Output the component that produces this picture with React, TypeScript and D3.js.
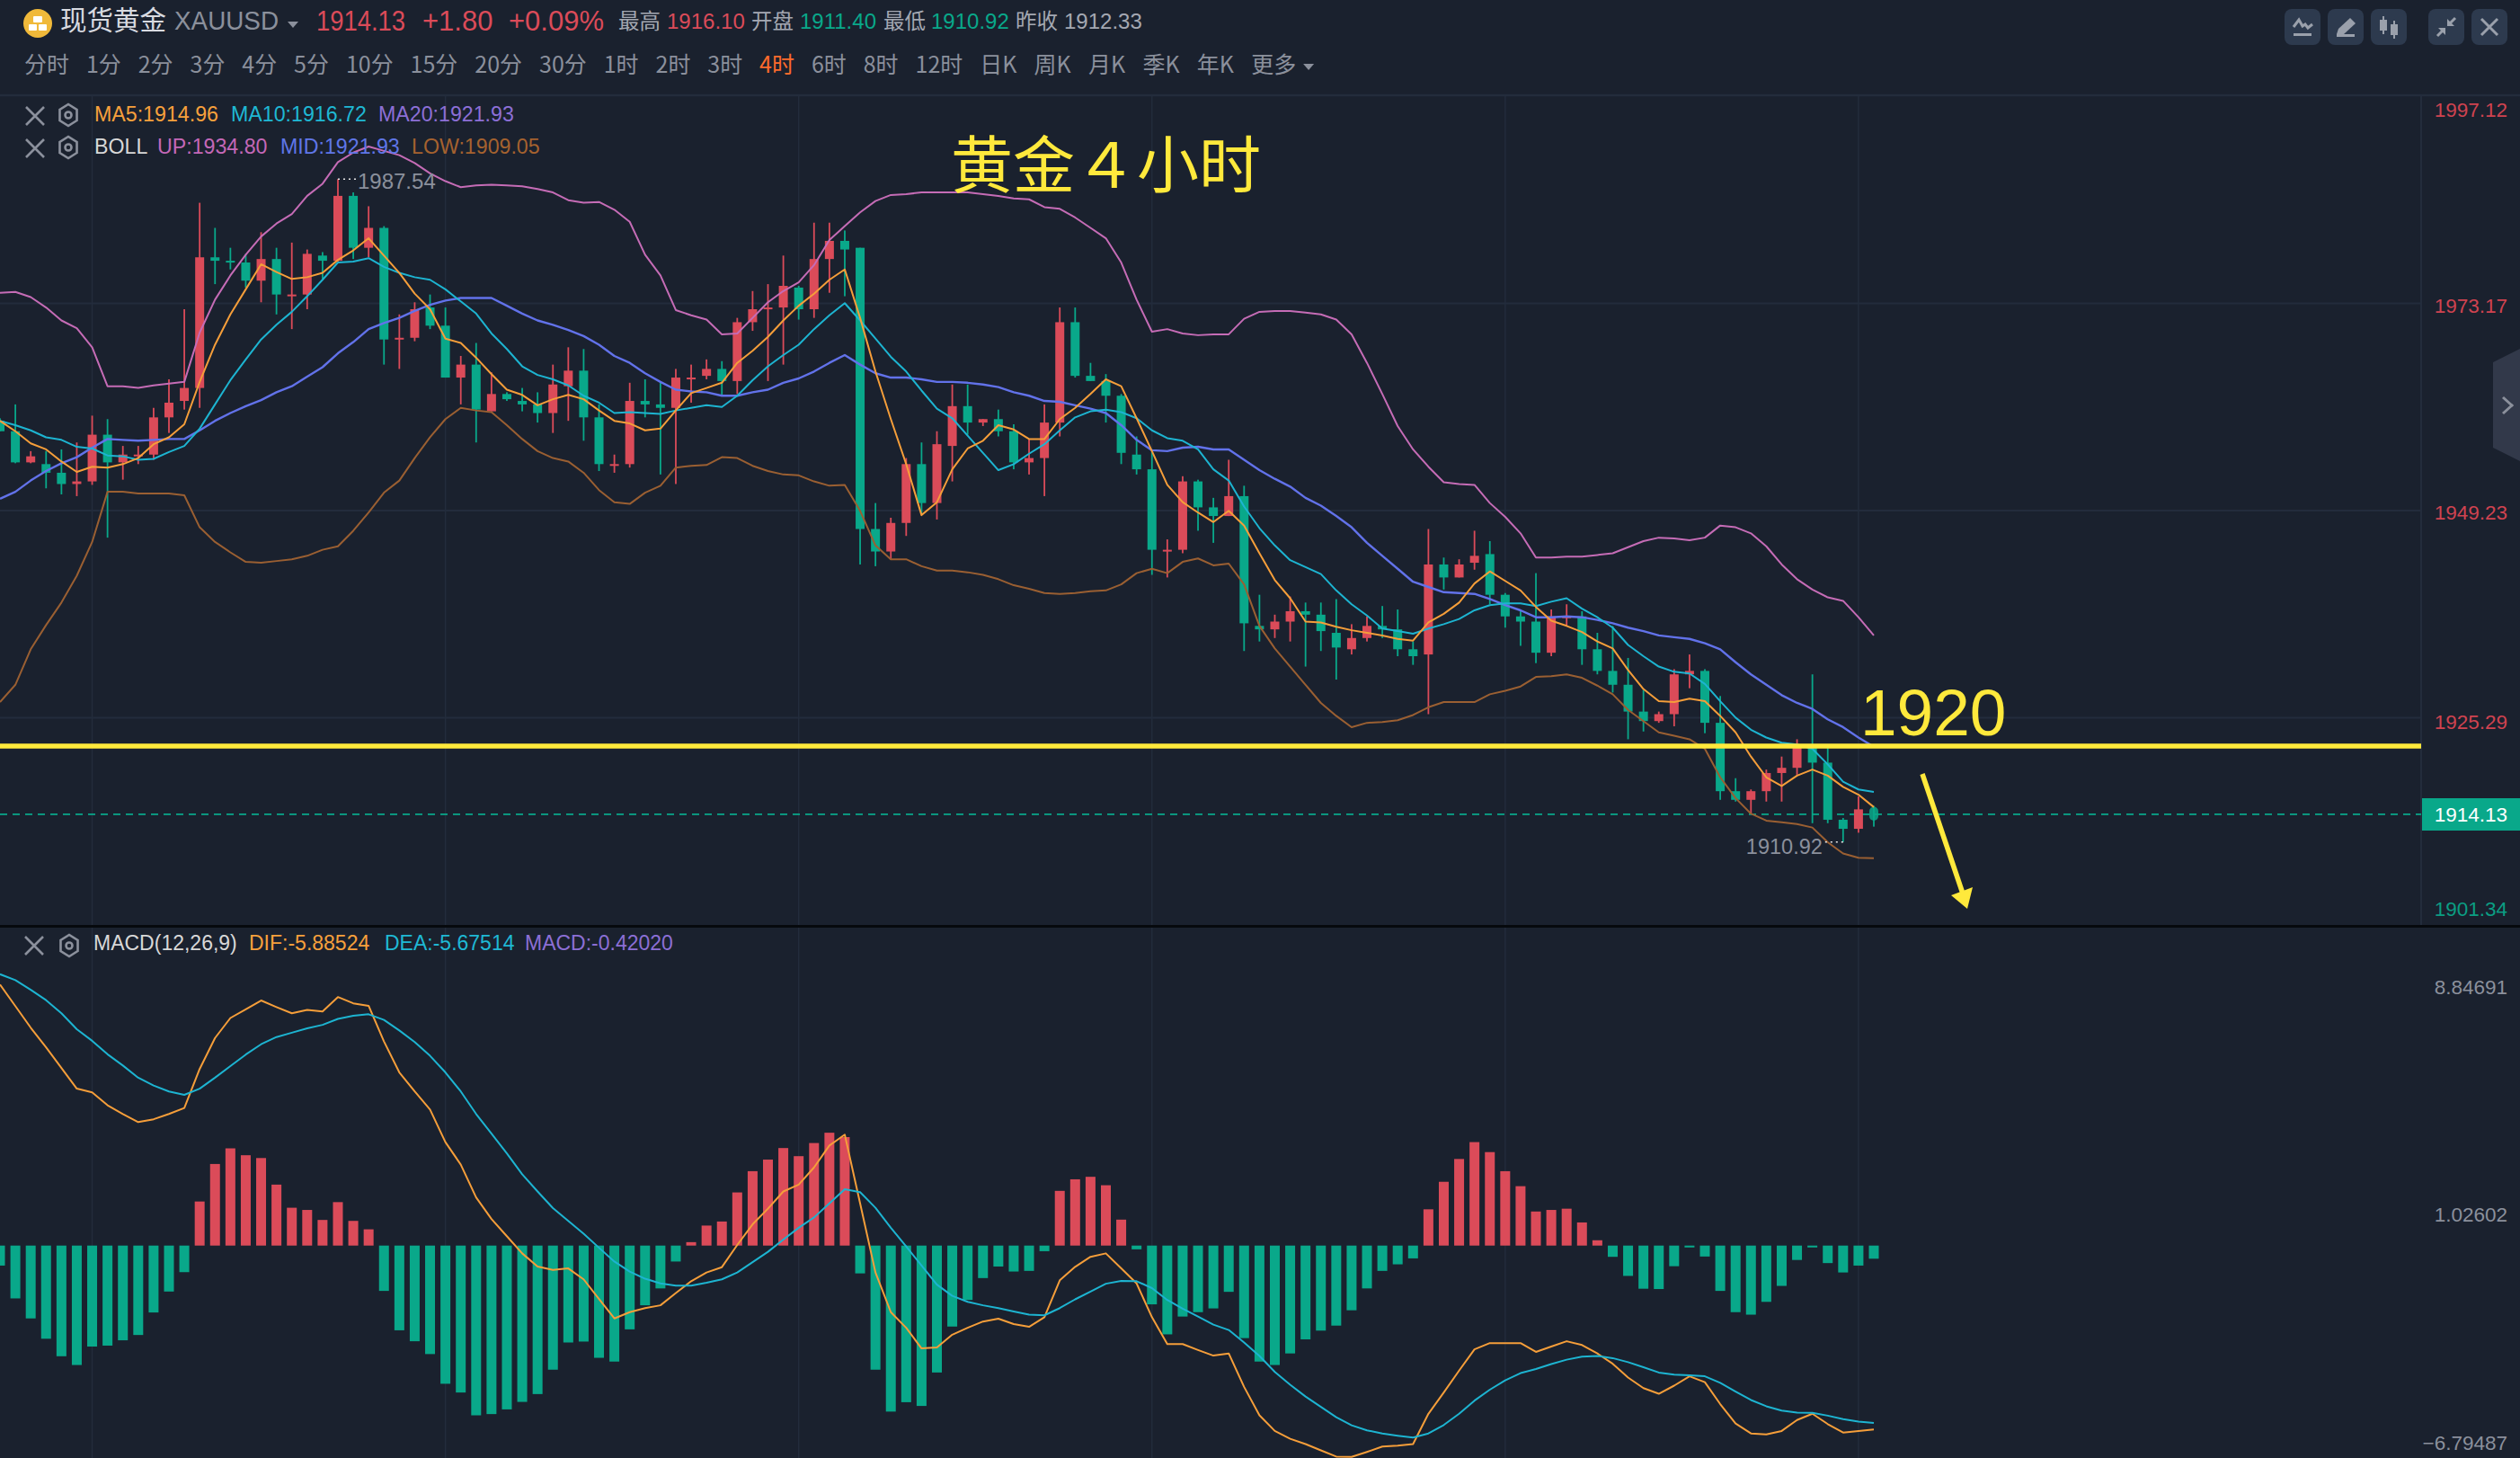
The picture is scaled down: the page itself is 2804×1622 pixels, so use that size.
import React from 'react';
import * as d3 from 'd3';

// price panel (4h candles, oldest first)
const open = [
  1959.6, 1958.4, 1954.8, 1954.6, 1953.6, 1952.3, 1952.6, 1958.0, 1954.8, 1955.5,
  1955.7, 1960.0, 1961.9, 1963.4, 1978.5, 1978.1, 1977.9, 1975.8, 1978.3, 1974.0,
  1974.2, 1978.7, 1978.1, 1985.6, 1979.6, 1981.9, 1969.0, 1969.2, 1972.7, 1970.6,
  1964.6, 1966.1, 1960.7, 1962.7, 1961.9, 1961.5, 1960.5, 1963.6, 1965.4, 1960.0,
  1954.4, 1954.6, 1961.9, 1961.5, 1961.1, 1964.4, 1964.8, 1965.6, 1964.2, 1971.0,
  1972.5, 1972.7, 1975.0, 1972.5, 1978.3, 1980.4, 1979.6, 1947.1, 1944.5, 1947.8,
  1954.6, 1950.1, 1956.7, 1961.3, 1959.4, 1959.8, 1958.4, 1954.8, 1955.3, 1959.4,
  1971.0, 1964.8, 1964.2, 1962.5, 1955.7, 1954.0, 1944.5, 1944.7, 1952.6, 1949.6,
  1948.6, 1950.9, 1935.9, 1935.5, 1936.4, 1937.6, 1937.2, 1935.1, 1933.2, 1934.5,
  1935.9, 1935.5, 1933.2, 1932.6, 1943.0, 1941.5, 1943.2, 1944.2, 1939.5, 1937.0,
  1936.4, 1932.8, 1936.8, 1937.0, 1933.2, 1930.7, 1929.1, 1926.0, 1924.9, 1925.7,
  1930.3, 1930.7, 1924.7, 1916.8, 1915.8, 1916.8, 1918.9, 1919.5, 1922.0, 1920.1,
  1913.5, 1912.45, 1915.0,
];
const close = [
  1958.4, 1954.8, 1955.5, 1953.6, 1952.3, 1952.6, 1958.0, 1954.8, 1955.7, 1955.7,
  1960.0, 1961.7, 1963.4, 1978.5, 1978.1, 1977.9, 1975.8, 1978.3, 1974.2, 1974.2,
  1978.9, 1978.1, 1985.6, 1979.6, 1981.9, 1969.0, 1969.2, 1972.5, 1970.6, 1964.6,
  1966.1, 1960.9, 1962.7, 1962.1, 1961.5, 1960.5, 1963.8, 1965.4, 1960.0, 1954.6,
  1954.6, 1961.9, 1961.5, 1961.1, 1964.6, 1964.6, 1965.6, 1964.2, 1971.0, 1972.5,
  1972.7, 1975.2, 1972.5, 1978.3, 1980.4, 1979.4, 1947.1, 1944.5, 1947.8, 1954.6,
  1950.1, 1956.9, 1961.3, 1959.4, 1959.8, 1958.4, 1954.8, 1955.3, 1959.4, 1971.0,
  1964.8, 1964.2, 1962.5, 1955.9, 1954.0, 1944.7, 1944.7, 1952.6, 1949.6, 1948.6,
  1950.9, 1936.2, 1935.5, 1936.4, 1937.6, 1937.2, 1935.3, 1933.4, 1934.5, 1935.9,
  1935.5, 1933.2, 1932.4, 1943.0, 1941.5, 1943.0, 1944.0, 1939.5, 1937.0, 1936.4,
  1932.8, 1937.0, 1937.0, 1933.2, 1930.7, 1929.1, 1926.0, 1924.9, 1925.7, 1930.3,
  1930.7, 1924.7, 1916.8, 1915.8, 1916.8, 1918.9, 1919.5, 1922.0, 1920.1, 1913.5,
  1912.45, 1914.7, 1913.4,
];
const high = [
  1959.9, 1961.5, 1956.1, 1956.1, 1956.3, 1957.1, 1960.2, 1959.8, 1956.7, 1956.7,
  1961.1, 1964.4, 1972.5, 1984.8, 1981.9, 1979.6, 1978.9, 1981.4, 1979.6, 1980.2,
  1979.4, 1979.1, 1987.54, 1986.0, 1984.4, 1982.1, 1971.9, 1973.3, 1974.2, 1972.7,
  1967.1, 1968.6, 1965.2, 1962.9, 1963.4, 1962.9, 1966.1, 1968.1, 1967.9, 1961.5,
  1955.7, 1964.0, 1964.4, 1964.0, 1965.6, 1966.1, 1966.7, 1966.5, 1971.5, 1974.6,
  1975.4, 1978.7, 1975.2, 1982.5, 1982.5, 1981.6, 1979.6, 1950.1, 1948.4, 1955.3,
  1957.1, 1958.4, 1963.8, 1963.8, 1959.8, 1960.9, 1959.2, 1957.5, 1961.5, 1972.7,
  1972.7, 1966.3, 1965.0, 1962.7, 1957.8, 1956.3, 1945.9, 1953.2, 1952.8, 1950.7,
  1955.1, 1952.1, 1939.5, 1937.2, 1939.3, 1938.6, 1938.6, 1939.0, 1936.1, 1937.0,
  1938.2, 1937.8, 1934.1, 1947.1, 1943.8, 1943.6, 1946.9, 1945.7, 1939.7, 1937.6,
  1942.0, 1937.8, 1938.4, 1937.6, 1935.1, 1935.9, 1932.2, 1928.5, 1926.0, 1930.9,
  1932.6, 1930.9, 1927.8, 1918.3, 1917.0, 1919.3, 1920.8, 1922.8, 1930.3, 1921.8,
  1913.7, 1916.2, 1915.1,
];
const low = [
  1958.4, 1954.7, 1954.7, 1951.8, 1951.1, 1950.9, 1952.2, 1946.1, 1952.8, 1954.6,
  1955.1, 1958.2, 1960.9, 1961.1, 1975.4, 1977.1, 1975.0, 1973.3, 1971.9, 1970.2,
  1972.5, 1976.0, 1978.0, 1978.3, 1978.5, 1966.1, 1965.6, 1968.8, 1970.2, 1964.6,
  1961.5, 1957.1, 1960.7, 1961.9, 1960.7, 1959.4, 1958.2, 1959.6, 1957.3, 1953.8,
  1953.6, 1954.2, 1960.0, 1953.4, 1952.3, 1961.7, 1964.4, 1962.5, 1962.7, 1970.0,
  1964.2, 1966.1, 1971.3, 1971.5, 1974.4, 1974.0, 1943.0, 1942.8, 1943.6, 1946.3,
  1948.8, 1948.2, 1952.6, 1958.0, 1959.0, 1957.8, 1954.0, 1953.4, 1950.9, 1957.8,
  1964.6, 1964.2, 1959.4, 1954.6, 1953.4, 1941.8, 1941.5, 1944.3, 1946.9, 1945.5,
  1948.6, 1933.0, 1934.1, 1934.5, 1934.1, 1931.2, 1933.0, 1929.7, 1932.6, 1934.1,
  1934.5, 1932.4, 1931.4, 1925.7, 1940.1, 1941.5, 1942.4, 1938.4, 1935.7, 1933.6,
  1931.6, 1932.4, 1935.9, 1931.4, 1930.3, 1928.2, 1922.8, 1923.7, 1924.7, 1924.3,
  1928.7, 1923.5, 1915.8, 1915.6, 1914.2, 1915.6, 1915.6, 1918.7, 1913.1, 1913.1,
  1910.92, 1912.0, 1912.7,
];
const ma5 = [
  1959.6, 1958.4, 1957.0, 1956.3, 1954.9, 1953.7, 1954.3, 1954.2, 1954.6, 1955.3,
  1956.9, 1957.7, 1959.2, 1964.1, 1968.4, 1971.9, 1974.8, 1977.7, 1976.8, 1976.0,
  1976.2, 1976.7, 1978.2, 1979.3, 1980.7, 1978.7, 1976.7, 1974.3, 1972.5, 1969.1,
  1968.6, 1966.9, 1965.0, 1963.2, 1962.6, 1961.4, 1962.1, 1962.6, 1962.1, 1960.8,
  1959.6, 1959.3, 1958.5, 1958.7, 1960.8, 1962.8, 1963.4, 1964.0, 1966.3, 1967.7,
  1969.3, 1971.2, 1972.9, 1974.3, 1975.9, 1977.1, 1971.5, 1965.3, 1959.8, 1954.6,
  1948.7, 1950.2, 1954.0, 1956.4, 1957.3, 1959.1, 1958.6, 1957.5, 1957.5, 1959.8,
  1961.1, 1962.7, 1964.4, 1963.6, 1959.9, 1956.1, 1952.2, 1950.2, 1949.0, 1947.9,
  1949.2, 1947.5, 1944.3, 1941.2, 1939.1, 1936.4, 1936.3, 1935.8, 1935.4, 1935.1,
  1934.8, 1934.4, 1934.2, 1936.3, 1937.3, 1938.6, 1940.8, 1942.2, 1941.1, 1940.0,
  1938.1, 1936.5, 1935.9, 1935.2, 1934.1, 1933.3, 1930.8, 1928.6, 1927.2, 1927.1,
  1927.5, 1927.2, 1925.5, 1923.6, 1920.8, 1918.4, 1917.4, 1918.6, 1919.3, 1918.6,
  1917.3, 1916.4, 1914.96,
];
const ma10 = [
  1959.6, 1959.1, 1958.5, 1957.7, 1957.4, 1956.6, 1956.4, 1955.6, 1955.5, 1955.1,
  1955.2, 1956.0, 1956.7, 1958.7, 1961.5, 1964.3, 1966.7, 1969.0, 1970.7, 1972.2,
  1974.0, 1975.9, 1977.9, 1978.0, 1978.4, 1977.4, 1976.7, 1976.2, 1975.9, 1974.8,
  1973.4, 1972.0, 1969.7, 1967.9, 1965.9, 1964.9, 1964.4, 1963.7, 1962.5, 1961.7,
  1960.5, 1960.6, 1960.5, 1960.4, 1960.8, 1961.1, 1961.4, 1961.2, 1962.5, 1964.3,
  1965.9, 1967.2, 1968.4, 1970.2, 1971.8, 1973.2, 1971.2, 1969.1, 1967.0, 1965.3,
  1963.1, 1961.0, 1959.9, 1957.9, 1955.9, 1953.9, 1954.6, 1955.8, 1956.9, 1958.5,
  1960.0, 1960.7, 1960.9, 1960.6, 1959.9, 1958.5, 1957.6, 1957.3, 1956.3, 1954.0,
  1952.7, 1949.7, 1947.2, 1945.2, 1943.5, 1942.7, 1941.9, 1940.0, 1938.4, 1937.1,
  1935.6, 1935.3, 1935.0, 1935.6, 1936.1, 1936.7, 1937.7, 1938.3, 1938.5, 1938.5,
  1938.2, 1938.7, 1939.1, 1937.9, 1936.9, 1935.7, 1933.7, 1932.4, 1931.2, 1930.6,
  1930.4, 1929.2, 1927.2, 1925.3, 1923.9, 1923.0, 1922.4, 1922.2, 1921.7, 1919.9,
  1917.9, 1917.0, 1916.72,
];
const bollMid = [
  1950.6, 1951.4, 1952.7, 1953.8, 1954.7, 1955.4, 1956.5, 1957.5, 1957.4, 1957.3,
  1957.4, 1957.5, 1957.5, 1958.5, 1959.6, 1960.5, 1961.3, 1962.0, 1962.9, 1963.6,
  1964.7, 1965.8, 1967.4, 1968.7, 1970.2, 1970.9, 1971.5, 1972.3, 1973.0, 1973.5,
  1973.8, 1973.8, 1973.8, 1972.9, 1972.0, 1971.2, 1970.7, 1970.1, 1969.4, 1968.4,
  1967.1, 1966.3, 1965.1, 1964.1, 1963.2, 1963.0, 1962.9, 1962.5, 1962.5, 1962.9,
  1963.2, 1964.0, 1964.5, 1965.3, 1966.3, 1967.2, 1966.1, 1965.1, 1964.6, 1964.6,
  1964.4, 1964.1, 1964.1, 1964.0, 1963.8, 1963.5, 1962.9, 1962.5, 1961.9, 1961.8,
  1961.4, 1961.0, 1960.5, 1959.1, 1957.4, 1956.2, 1956.1, 1956.5, 1956.6, 1956.3,
  1956.3, 1955.1, 1953.9, 1952.9, 1952.0, 1950.7, 1949.8, 1948.6, 1947.3, 1945.5,
  1944.0, 1942.5, 1941.0, 1940.4, 1939.8, 1939.7, 1939.6, 1939.0, 1938.3, 1937.7,
  1936.9, 1936.9, 1937.0, 1936.9, 1936.6, 1936.2, 1935.7, 1935.3, 1934.8, 1934.6,
  1934.4, 1933.9, 1933.2, 1931.7, 1930.3, 1929.1, 1927.9, 1927.0, 1926.3, 1925.1,
  1924.2, 1923.0, 1921.93,
];
const bollUp = [
  1974.4, 1974.5, 1973.9, 1972.7, 1971.2, 1970.3, 1968.1, 1963.6, 1963.6, 1963.4,
  1963.7, 1963.9, 1964.1, 1969.8, 1973.6, 1976.4, 1978.8, 1980.9, 1982.4, 1983.5,
  1985.6, 1987.0, 1989.5, 1990.6, 1991.3, 1990.8, 1990.3, 1989.4, 1988.2, 1987.3,
  1986.6, 1986.8, 1986.9, 1986.8, 1986.7, 1986.4, 1986.0, 1985.1, 1984.8, 1984.9,
  1984.0, 1982.6, 1978.8, 1976.4, 1972.4, 1971.8, 1971.3, 1969.6, 1969.7, 1971.5,
  1973.3, 1974.6, 1975.6, 1977.6, 1980.5, 1982.1, 1983.7, 1985.0, 1985.7, 1985.8,
  1986.0, 1986.0, 1986.0, 1986.0, 1985.8, 1985.6, 1985.3, 1985.2, 1984.3, 1984.1,
  1983.1, 1981.9, 1980.7, 1977.9, 1973.6, 1969.9, 1970.2, 1969.7, 1969.5, 1969.6,
  1969.6, 1971.4, 1972.2, 1972.3, 1972.3, 1972.1, 1971.9, 1971.3, 1969.6, 1966.3,
  1962.7, 1959.0, 1956.3, 1954.3, 1952.5, 1952.3, 1952.2, 1950.1, 1948.5, 1946.6,
  1943.8, 1943.8, 1943.9, 1943.9, 1944.1, 1944.3, 1945.0, 1945.7, 1946.1, 1946.0,
  1945.8, 1946.1, 1947.5, 1947.3, 1946.6, 1945.1, 1943.0, 1941.3, 1940.1, 1939.2,
  1938.8, 1936.9, 1934.8,
];
const bollLow = [
  1927.1, 1929.1, 1933.2, 1936.0, 1938.6, 1941.7, 1945.6, 1951.4, 1951.4, 1951.2,
  1951.2, 1951.2, 1951.0, 1947.3, 1945.6, 1944.4, 1943.3, 1943.2, 1943.4, 1943.6,
  1944.0, 1944.7, 1945.1, 1946.9, 1949.0, 1951.3, 1952.7, 1955.3, 1957.7, 1959.8,
  1961.1, 1960.8, 1960.6, 1959.1, 1957.5, 1956.1, 1955.3, 1954.9, 1953.6, 1951.6,
  1950.2, 1950.0, 1951.3, 1952.1, 1954.2, 1954.4, 1954.5, 1955.4, 1955.3, 1954.4,
  1953.8, 1953.4, 1953.3, 1952.6, 1952.1, 1952.2, 1949.2, 1945.2, 1943.6, 1943.6,
  1942.8, 1942.3, 1942.3, 1942.1, 1941.8, 1941.3, 1940.6, 1940.2, 1939.7, 1939.6,
  1939.7, 1939.9, 1940.0, 1940.7, 1942.0, 1942.5, 1942.0, 1943.3, 1943.7, 1942.9,
  1943.1, 1940.7, 1935.9, 1933.3, 1931.2, 1929.1, 1927.0, 1925.5, 1924.2, 1924.7,
  1924.8, 1925.0, 1925.6, 1926.5, 1927.1, 1927.1, 1927.1, 1928.0, 1928.4, 1928.9,
  1930.0, 1930.1, 1930.3, 1929.9, 1929.0, 1928.0, 1926.2, 1924.9, 1923.6, 1923.2,
  1922.8, 1921.7, 1918.4, 1916.0, 1914.2, 1913.4, 1913.2, 1913.0, 1912.6, 1910.9,
  1909.6, 1909.1, 1909.05,
];

// MACD panel
const macdHist = [
  -0.64, -1.69, -2.33, -2.98, -3.54, -3.82, -3.23, -3.2, -3.03, -2.86,
  -2.14, -1.47, -0.85, 1.41, 2.61, 3.11, 2.89, 2.8, 1.95, 1.21,
  1.14, 0.82, 1.39, 0.79, 0.52, -1.45, -2.71, -3.06, -3.47, -4.42,
  -4.7, -5.43, -5.39, -5.24, -5.0, -4.75, -3.97, -3.1, -3.07, -3.59,
  -3.71, -2.68, -1.91, -1.37, -0.51, 0.11, 0.64, 0.77, 1.7, 2.38,
  2.75, 3.12, 2.86, 3.28, 3.61, 3.47, -0.89, -3.97, -5.31, -5.01,
  -5.13, -4.06, -2.59, -1.74, -1.04, -0.67, -0.83, -0.81, -0.18, 1.75,
  2.12, 2.2, 1.93, 0.83, -0.12, -1.88, -2.84, -2.27, -2.13, -2.01,
  -1.48, -2.96, -3.71, -3.82, -3.45, -3.0, -2.72, -2.56, -2.07, -1.37,
  -0.81, -0.6, -0.41, 1.16, 2.04, 2.77, 3.31, 2.99, 2.38, 1.9,
  1.09, 1.14, 1.18, 0.74, 0.17, -0.36, -0.97, -1.38, -1.39, -0.66,
  -0.06, -0.35, -1.45, -2.13, -2.21, -1.8, -1.29, -0.46, -0.06, -0.56,
  -0.86, -0.64, -0.42,
];
const dif = [
  8.35, 7.66, 6.97, 6.34, 5.68, 5.02, 4.9, 4.49, 4.21, 3.95,
  4.04, 4.21, 4.4, 5.65, 6.64, 7.28, 7.56, 7.84, 7.63, 7.43,
  7.54, 7.49, 7.95, 7.75, 7.67, 6.53, 5.54, 4.93, 4.35, 3.31,
  2.59, 1.54, 0.85, 0.3, -0.25, -0.67, -0.78, -0.73, -1.08, -1.71,
  -2.33, -2.13, -2.0, -1.91, -1.52, -1.14, -0.86, -0.69, 0.02, 0.68,
  1.18, 1.73, 1.95, 2.5, 3.2, 3.55, 1.35, -0.86, -2.13, -2.63,
  -3.29, -3.26, -2.85, -2.63, -2.43, -2.34, -2.51, -2.6, -2.29, -1.11,
  -0.68, -0.36, -0.25, -0.73, -1.21, -2.29, -3.15, -3.15, -3.34, -3.52,
  -3.45, -4.52, -5.43, -5.93, -6.18, -6.35, -6.55, -6.75, -6.76, -6.6,
  -6.43, -6.4, -6.35, -5.38, -4.7, -4.0, -3.32, -3.12, -3.12, -3.12,
  -3.4, -3.23, -3.06, -3.18, -3.45, -3.78, -4.22, -4.56, -4.74, -4.48,
  -4.18, -4.37, -5.07, -5.69, -6.01, -6.04, -5.93, -5.58, -5.38, -5.71,
  -5.98, -5.93, -5.885,
];
const dea = [
  8.68, 8.49, 8.18, 7.85, 7.43, 6.92, 6.55, 6.12, 5.76, 5.37,
  5.12, 4.93, 4.82, 5.02, 5.37, 5.74, 6.11, 6.44, 6.67, 6.81,
  6.95, 7.06, 7.25, 7.35, 7.4, 7.22, 6.88, 6.51, 6.07, 5.54,
  4.93, 4.21, 3.58, 2.95, 2.28, 1.73, 1.2, 0.79, 0.38, -0.07,
  -0.51, -0.83, -1.06, -1.21, -1.28, -1.28, -1.19, -1.08, -0.86, -0.53,
  -0.2, 0.19, 0.57, 0.9, 1.35, 1.8, 1.71, 1.21, 0.57, -0.03,
  -0.64, -1.25, -1.61, -1.8, -1.91, -2.0, -2.11, -2.21, -2.23, -2.0,
  -1.72, -1.47, -1.22, -1.13, -1.14, -1.36, -1.74, -2.02, -2.27, -2.53,
  -2.7, -3.1, -3.53, -4.04, -4.45, -4.83, -5.16, -5.49, -5.75, -5.91,
  -6.01, -6.08, -6.14, -6.01, -5.74, -5.38, -4.96, -4.61, -4.31, -4.08,
  -3.95, -3.79, -3.65, -3.55, -3.53, -3.6, -3.73, -3.89, -4.06, -4.13,
  -4.15, -4.18, -4.39, -4.67, -4.94, -5.14, -5.28, -5.34, -5.35, -5.44,
  -5.55, -5.63, -5.675,
];

const priceTicks = [1997.12, 1973.17, 1949.23, 1925.29, 1901.34];
const macdTicks = ['8.84691', '1.02602', '\u22126.79487'];
const gridCandles = [6, 29, 52, 75, 98, 121];
const periods = ['分时', '1分', '2分', '3分', '4分', '5分', '10分', '15分', '20分', '30分', '1时', '2时', '3时', '4时', '6时', '8时', '12时', '日K', '周K', '月K', '季K', '年K', '更多'];
const lastPrice = 1914.13;
const highLabel = 1987.54;
const lowLabel = 1910.92;
const yellowLevelPx = 830;

const W = 2804;
const H = 1622;
const AXIS_X = 2694;
const BG = '#1a212e';
const GRID = '#232c3c';
const RED = '#db4b59';
const GREEN = '#09a88a';
const GRAY = '#8b909c';
const YELLOW = '#ffe93c';
const LATIN = '"Liberation Sans", "Noto Sans CJK SC", sans-serif';
const CJK = '"Noto Sans CJK SC", "Liberation Sans", sans-serif';

const x = d3.scaleLinear().domain([0, 122]).range([0, 2085]);
const yPrice = d3.scaleLinear().domain([1901.34, 1997.12]).range([1029, 107]);
const yMacd = d3.scaleLinear().domain([-6.79487, 8.84691]).range([1622, 1078]);

const priceLine = d3.line<number>().x((_, i) => x(i)).y(d => yPrice(d));
const macdLine = d3.line<number>().x((_, i) => x(i)).y(d => yMacd(d));

// width of a period label, so the row can be laid out left to right
const periodWidth = (s: string) =>
  Array.from(s).reduce((w, c) => w + (/[0-9]/.test(c) ? 13.9 : c === 'K' ? 16.5 : 25), 0);

function CloseMark({ cx, cy, r = 10 }: { cx: number; cy: number; r?: number }) {
  return (
    <path
      d={`M${cx - r},${cy - r}L${cx + r},${cy + r}M${cx + r},${cy - r}L${cx - r},${cy + r}`}
      stroke={GRAY}
      strokeWidth={2.6}
      fill="none"
    />
  );
}

function HexMark({ cx, cy }: { cx: number; cy: number }) {
  const pts = d3.range(6).map(k => {
    const a = Math.PI / 6 + (k * Math.PI) / 3;
    return [cx + 11 * Math.cos(a), cy + 12 * Math.sin(a)].join(',');
  });
  return (
    <g fill="none" stroke={GRAY} strokeWidth={2.6}>
      <polygon points={pts.join(' ')} />
      <circle cx={cx} cy={cy} r={3.5} />
    </g>
  );
}

function ToolButton({ bx, children }: { bx: number; children: React.ReactNode }) {
  return (
    <g transform={`translate(${bx},10)`}>
      <rect width={40} height={40} rx={8} fill="#2d3a4e" />
      {children}
    </g>
  );
}

function Header() {
  let px = 27;
  const items = periods.map(p => {
    const at = px;
    px += periodWidth(p) + 18.9;
    return { p, at };
  });
  return (
    <g>
      <circle cx={42} cy={26} r={16} fill="#f0b93a" />
      <g fill="#fff">
        <rect x={37} y={18} width={10} height={7} rx={1} />
        <rect x={32} y={27} width={9} height={7} rx={1} />
        <rect x={43} y={27} width={9} height={7} rx={1} />
      </g>
      <text x={67} y={33} fontFamily={CJK} fontSize={29.5} fill="#d8dae0">现货黄金</text>
      <text x={194} y={33} fontFamily={LATIN} fontSize={29} fill={GRAY} textLength={116} lengthAdjust="spacingAndGlyphs">XAUUSD</text>
      <path d="M320,24h12l-6,7z" fill={GRAY} />
      <g fontFamily={LATIN} fontSize={31} fill={RED}>
        <text x={352} y={34} textLength={99} lengthAdjust="spacingAndGlyphs">1914.13</text>
        <text x={470} y={34}>+1.80</text>
        <text x={566} y={34}>+0.09%</text>
      </g>
      <g fontFamily={CJK} fontSize={23.5} fill="#a4a8b2">
        <text x={688} y={32}>最高</text>
        <text x={836} y={32}>开盘</text>
        <text x={983} y={32}>最低</text>
        <text x={1130} y={32}>昨收</text>
      </g>
      <g fontFamily={LATIN} fontSize={24}>
        <text x={742} y={32} fill={RED}>1916.10</text>
        <text x={890} y={32} fill={GREEN}>1911.40</text>
        <text x={1036} y={32} fill={GREEN}>1910.92</text>
        <text x={1184} y={32} fill="#a4a8b2">1912.33</text>
      </g>
      {items.map(({ p, at }) => (
        <text key={p} x={at} y={81} fontFamily={CJK} fontSize={25} fill={p === '4时' ? '#ff6b2c' : GRAY}>{p}</text>
      ))}
      <path d={`M${px - 11},71h12l-6,7z`} fill={GRAY} />

      <ToolButton bx={2542}>
        <path d="M10,20l6,-8l4,7l3,-2l3,4l5,-4" fill="none" stroke="#9aa0ab" strokeWidth={3} />
        <rect x={10} y={27} width={20} height={3} fill="#9aa0ab" />
      </ToolButton>
      <ToolButton bx={2590}>
        <path d="M10,28l2,-6l13,-12l6,6l-13,12z" fill="#9aa0ab" />
        <rect x={10} y={28} width={20} height={3} fill="#9aa0ab" />
      </ToolButton>
      <ToolButton bx={2638}>
        <g fill="#9aa0ab">
          <rect x={10} y={12} width={8} height={12} />
          <rect x={13} y={8} width={2} height={20} />
          <rect x={22} y={17} width={8} height={12} />
          <rect x={25} y={13} width={2} height={20} />
        </g>
      </ToolButton>
      <ToolButton bx={2702}>
        <path d="M10,30l8,-8M30,10l-8,8" stroke="#9aa0ab" strokeWidth={3} fill="none" />
        <path d="M19,21h-8l8,8zM21,19h8l-8,-8z" fill="#9aa0ab" />
      </ToolButton>
      <ToolButton bx={2750}>
        <path d="M11,11L29,29M29,11L11,29" stroke="#9aa0ab" strokeWidth={3} fill="none" />
      </ToolButton>
    </g>
  );
}

function Candles() {
  const last = open.length - 1;
  return (
    <g>
      {open.map((o, i) => {
        const c = close[i];
        const color = c >= o ? RED : GREEN;
        const top = yPrice(Math.max(o, c));
        const bottom = yPrice(Math.min(o, c));
        return (
          <g key={i} fill={color}>
            <rect x={x(i) - 0.9} y={yPrice(high[i])} width={1.8} height={yPrice(low[i]) - yPrice(high[i])} />
            <rect
              x={x(i) - 5}
              y={top}
              width={10}
              height={Math.max(bottom - top, 2)}
              rx={i === last ? 5 : 0}
              opacity={i === last ? 0.85 : 1}
            />
          </g>
        );
      })}
    </g>
  );
}

export default function App() {
  return (
    <svg
      width={W}
      height={H}
      viewBox={`0 0 ${W} ${H}`}
      style={{ position: 'absolute', left: 0, top: 0, display: 'block', background: BG }}
    >
      <defs>
        <clipPath id="main-clip"><rect x={0} y={107} width={AXIS_X} height={922} /></clipPath>
        <clipPath id="macd-clip"><rect x={0} y={1031} width={AXIS_X} height={591} /></clipPath>
      </defs>
      <rect width={W} height={H} fill={BG} />

      <Header />

      {/* grid */}
      <line x1={0} x2={W} y1={106} y2={106} stroke={GRID} strokeWidth={2.5} />
      <line x1={AXIS_X} x2={AXIS_X} y1={106} y2={1029} stroke={GRID} strokeWidth={2} />
      {priceTicks.slice(1, -1).map(t => (
        <line key={t} x1={0} x2={AXIS_X} y1={yPrice(t)} y2={yPrice(t)} stroke={GRID} strokeWidth={2} />
      ))}
      {gridCandles.map(i => (
        <g key={i}>
          <line x1={x(i)} x2={x(i)} y1={107} y2={1029} stroke={GRID} strokeWidth={1.5} />
          <line x1={x(i)} x2={x(i)} y1={1031} y2={H} stroke={GRID} strokeWidth={1.5} />
        </g>
      ))}

      {/* price panel */}
      <g clipPath="url(#main-clip)">
        <line
          x1={0}
          x2={AXIS_X}
          y1={yPrice(lastPrice)}
          y2={yPrice(lastPrice)}
          stroke={GREEN}
          strokeWidth={1.6}
          strokeDasharray="8 6"
        />
        <Candles />
        <g fill="none" strokeLinejoin="round">
          <path d={priceLine(bollUp) ?? ''} stroke="#c56cb6" strokeWidth={2} />
          <path d={priceLine(bollLow) ?? ''} stroke="#9a5f32" strokeWidth={2} />
          <path d={priceLine(bollMid) ?? ''} stroke="#6272ea" strokeWidth={2.4} />
          <path d={priceLine(ma10) ?? ''} stroke="#1db4d1" strokeWidth={2} />
          <path d={priceLine(ma5) ?? ''} stroke="#f59e3a" strokeWidth={2} />
        </g>
      </g>

      {/* high and low of the visible range */}
      <line x1={x(22)} x2={x(22) + 20} y1={yPrice(highLabel)} y2={yPrice(highLabel)} stroke="#e8e8e8" strokeWidth={1.5} strokeDasharray="2 4" />
      <text x={x(22) + 22} y={yPrice(highLabel) + 11} fontFamily={LATIN} fontSize={24} fill={GRAY}>{highLabel.toFixed(2)}</text>
      <line x1={x(120)} x2={x(120) - 20} y1={yPrice(lowLabel)} y2={yPrice(lowLabel)} stroke="#e8e8e8" strokeWidth={1.5} strokeDasharray="2 4" />
      <text x={x(120) - 23} y={yPrice(lowLabel) + 13} textAnchor="end" fontFamily={LATIN} fontSize={23.5} fill={GRAY}>{lowLabel.toFixed(2)}</text>

      {/* hand-drawn annotations */}
      <line x1={0} x2={AXIS_X} y1={yellowLevelPx} y2={yellowLevelPx} stroke={YELLOW} strokeWidth={5.5} />
      <text x={1058} y={209} fontFamily={CJK} fontSize={69} fill={YELLOW}>黄金４小时</text>
      <text x={2070} y={818} fontFamily={LATIN} fontSize={73} fill={YELLOW}>1920</text>
      <line x1={2139} y1={861} x2={2186} y2={1000} stroke={YELLOW} strokeWidth={5.5} />
      <path d="M2171,996L2195,987L2189,1011Z" fill={YELLOW} />

      {/* legends */}
      <CloseMark cx={39} cy={129} />
      <HexMark cx={76} cy={128} />
      <CloseMark cx={39} cy={165} />
      <HexMark cx={76} cy={164} />
      <g fontFamily={LATIN} fontSize={23.2}>
        <text x={105} y={135} fill="#f7a03c">MA5:1914.96</text>
        <text x={257} y={135} fill="#1fb8d4">MA10:1916.72</text>
        <text x={421} y={135} fill="#8c6fd6">MA20:1921.93</text>
        <text x={105} y={171} fill="#d8d8d8">BOLL</text>
        <text x={175} y={171} fill="#c468b8">UP:1934.80</text>
        <text x={312} y={171} fill="#5f76e8">MID:1921.93</text>
        <text x={458} y={171} fill="#a5622f">LOW:1909.05</text>
      </g>

      {/* price axis */}
      <g fontFamily={LATIN} fontSize={22.5} textAnchor="end">
        {priceTicks.map((t, i) => (
          <text
            key={t}
            x={2790}
            y={yPrice(t) + (i === 0 ? 23 : i === priceTicks.length - 1 ? -10 : i === 3 ? 13 : 10)}
            fill={t > lastPrice ? '#cf4350' : '#0b9e83'}
          >
            {t.toFixed(2)}
          </text>
        ))}
      </g>
      <rect x={2695} y={888} width={109} height={36} fill={GREEN} />
      <text x={2790} y={914} textAnchor="end" fontFamily={LATIN} fontSize={22.5} fill="#fff">{lastPrice.toFixed(2)}</text>

      {/* collapse tab */}
      <path d="M2804,388L2774,403V498L2804,513Z" fill="#32394a" />
      <path d="M2785,442l10,9l-10,9" fill="none" stroke={GRAY} strokeWidth={3} />

      {/* MACD panel */}
      <rect x={0} y={1029} width={W} height={3} fill="#06090d" />
      <g clipPath="url(#macd-clip)">
        {macdHist.map((v, i) => (
          <rect
            key={i}
            x={x(i) - 5.5}
            y={yMacd(Math.max(v, 0))}
            width={11}
            height={Math.abs(yMacd(v) - yMacd(0))}
            fill={v >= 0 ? RED : GREEN}
          />
        ))}
        <g fill="none" strokeLinejoin="round" strokeWidth={2}>
          <path d={macdLine(dif) ?? ''} stroke="#f59e3a" />
          <path d={macdLine(dea) ?? ''} stroke="#1db4d1" />
        </g>
      </g>
      <CloseMark cx={38} cy={1052} />
      <HexMark cx={77} cy={1052} />
      <g fontFamily={LATIN} fontSize={23}>
        <text x={104} y={1057} fill="#d8d8d8">MACD(12,26,9)</text>
        <text x={277} y={1057} fill="#f7a03c">DIF:-5.88524</text>
        <text x={428} y={1057} fill="#1fb8d4">DEA:-5.67514</text>
        <text x={584} y={1057} fill="#8c6fd6">MACD:-0.42020</text>
      </g>
      <g fontFamily={LATIN} fontSize={22.5} textAnchor="end" fill={GRAY}>
        <text x={2790} y={1106}>{macdTicks[0]}</text>
        <text x={2790} y={1359}>{macdTicks[1]}</text>
        <text x={2790} y={1613}>{macdTicks[2]}</text>
      </g>
    </svg>
  );
}
